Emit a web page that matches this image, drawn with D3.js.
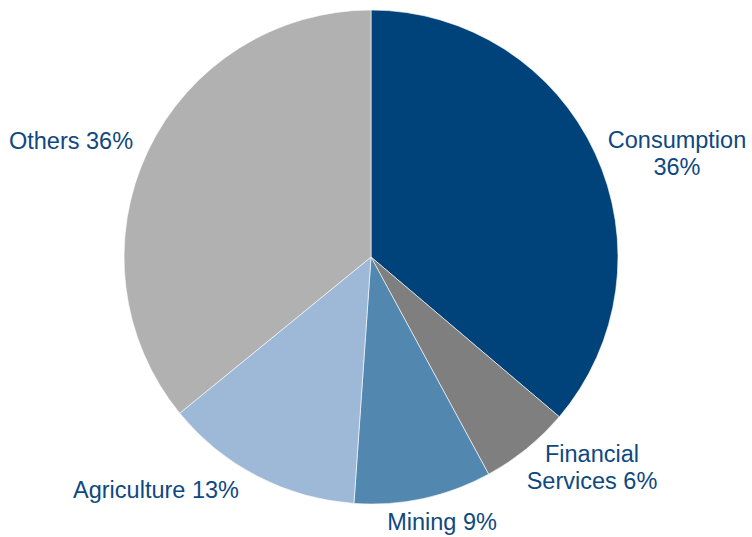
<!DOCTYPE html>
<html><head><meta charset="utf-8">
<script src="https://cdn.jsdelivr.net/npm/d3@7"></script>
<style>html,body{margin:0;padding:0;background:#fff;}svg{display:block;}</style>
</head><body>
<svg id="chart" width="752" height="537"></svg>
<script>
const categories = ["Consumption", "Financial Services", "Mining", "Agriculture", "Others"];
const values = [36.2, 5.9, 9, 13, 35.9];
const colors = ["#00427A", "#7F7F7F", "#5287B0", "#9DB9D7", "#B1B1B1"];
// label lines per slice
const labelLines = [["Consumption", "36%"], ["Financial", "Services 6%"], ["Mining 9%"], ["Agriculture 13%"], ["Others 36%"]];
// label anchor positions (layout)
const labelPos = [[677, 148], [592, 462], [442, 530], [156, 498], [71, 149]];

const svg = d3.select("#chart");
const cx = 371, cy = 257, r = 247;
const g = svg.append("g").attr("transform", `translate(${cx},${cy})`);
const pie = d3.pie().sort(null).value(d => d)(values);
const arc = d3.arc().innerRadius(0).outerRadius(r);
g.selectAll("path").data(pie).join("path")
  .attr("d", arc)
  .attr("fill", (d, i) => colors[i])
  .attr("stroke", "#fff").attr("stroke-width", 0.6);

const lbl = svg.append("g");
categories.forEach((c, i) => {
  const t = lbl.append("text")
    .attr("x", labelPos[i][0]).attr("y", labelPos[i][1])
    .attr("text-anchor", "middle")
    .attr("font-family", "Liberation Sans, Arial, sans-serif")
    .attr("font-size", 23.5)
    .attr("fill", "#0F4880");
  labelLines[i].forEach((line, j) => {
    t.append("tspan").attr("x", labelPos[i][0]).attr("dy", j === 0 ? 0 : 26.5).text(line);
  });
});
</script>
</body></html>
